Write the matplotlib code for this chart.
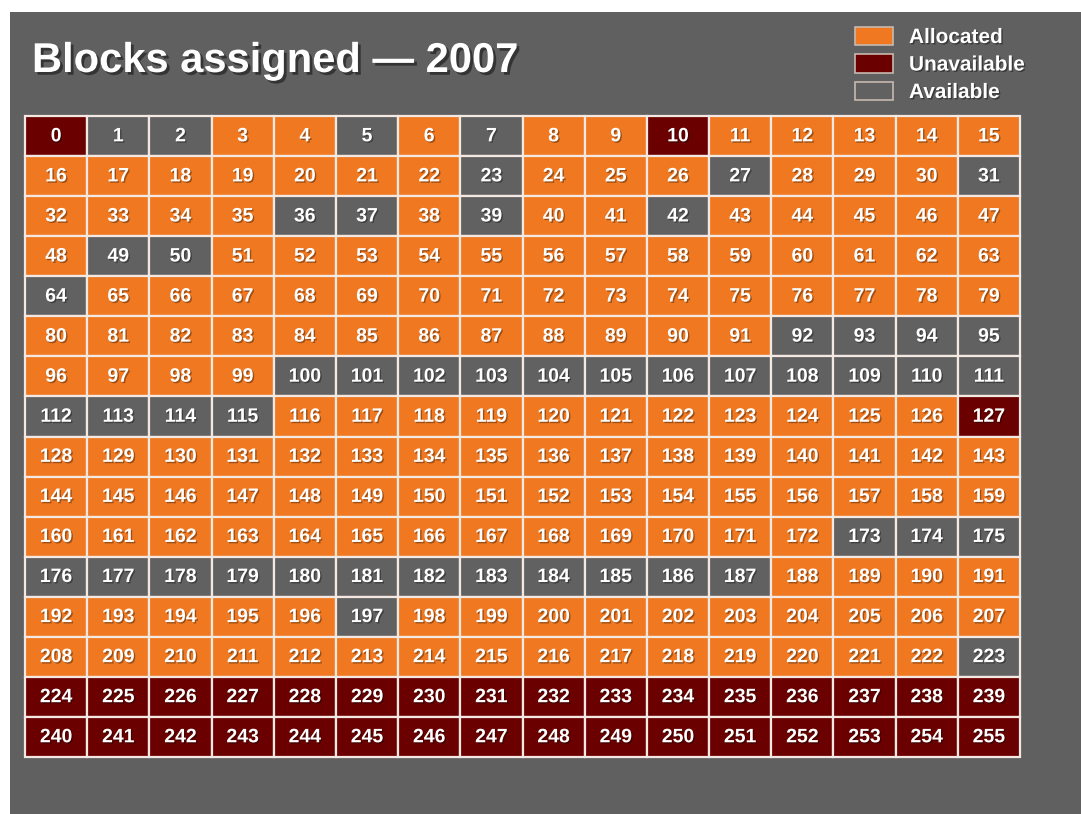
import matplotlib
matplotlib.use("Agg")
import matplotlib.pyplot as plt
from matplotlib.patches import Rectangle
import matplotlib.patheffects as pe

plt.rcParams['font.family'] = ['Liberation Sans', 'DejaVu Sans']

title = "Blocks assigned \u2014 2007"
categories = ["Allocated", "Unavailable", "Available"]
category_colors = ["#f07820", "#6a0000", "#616161"]

# One code per /8 block, 16 blocks per row: A=Allocated, U=Unavailable, V=Available
status_rows = [
    "UVVAAVAVAAUAAAAA",
    "AAAAAAAVAAAVAAAV",
    "AAAAVVAVAAVAAAAA",
    "AVVAAAAAAAAAAAAA",
    "VAAAAAAAAAAAAAAA",
    "AAAAAAAAAAAAVVVV",
    "AAAAVVVVVVVVVVVV",
    "VVVVAAAAAAAAAAAU",
    "AAAAAAAAAAAAAAAA",
    "AAAAAAAAAAAAAAAA",
    "AAAAAAAAAAAAAVVV",
    "VVVVVVVVVVVVAAAA",
    "AAAAAVAAAAAAAAAA",
    "AAAAAAAAAAAAAAAV",
    "UUUUUUUUUUUUUUUU",
    "UUUUUUUUUUUUUUUU",
]
code_to_category = {"A": 0, "U": 1, "V": 2}

W, H = 1081, 814
fig = plt.figure(figsize=(W / 100, H / 100), dpi=100, facecolor="white")

# grey slide panel behind everything
panel = Rectangle((10 / W, 0), 1 - 10 / W, 1 - 12 / H, transform=fig.transFigure,
                  facecolor="#606060", edgecolor="none", zorder=-5)
fig.patches.append(panel)

fig.text(32 / W, 1 - 72 / H, title, color="white", fontsize=30, fontweight="bold",
         ha="left", va="baseline",
         path_effects=[pe.SimplePatchShadow(offset=(2, -2), shadow_rgbFace="black", alpha=0.45),
                       pe.Normal()])

# legend
for i, (name, col) in enumerate(zip(categories, category_colors)):
    y_top = 27 + i * 27.5
    sw = Rectangle((855 / W, 1 - (y_top + 18) / H), 38 / W, 18 / H,
                   transform=fig.transFigure, facecolor=col,
                   edgecolor="#c8b8b0", linewidth=1.2, zorder=2)
    fig.patches.append(sw)
    fig.text(909 / W, 1 - (y_top + 16) / H, name, color="white", fontsize=15,
             fontweight="bold", ha="left", va="baseline",
             path_effects=[pe.SimplePatchShadow(offset=(1, -1), shadow_rgbFace="black", alpha=0.4),
                           pe.Normal()])

# block grid
ax = fig.add_axes([25 / W, 1 - 757 / H, 995 / W, 641 / H])
ax.set_zorder(1)
ax.set_xlim(0, 16)
ax.set_ylim(16, 0)
ax.axis("off")

for r, row in enumerate(status_rows):
    for c, code in enumerate(row):
        block = r * 16 + c
        col = category_colors[code_to_category[code]]
        ax.add_patch(Rectangle((c, r), 1, 1, facecolor=col, edgecolor="#f4e8e2",
                               linewidth=1.6, zorder=1, clip_on=False))
        ax.text(c + 0.5, r + 0.52, str(block), color="white", fontsize=14,
                fontweight="bold", ha="center", va="center", zorder=3,
                path_effects=[pe.SimplePatchShadow(offset=(1, -1), shadow_rgbFace="black", alpha=0.35),
                              pe.Normal()])

fig.savefig("out.png", dpi=100, facecolor=fig.get_facecolor())
